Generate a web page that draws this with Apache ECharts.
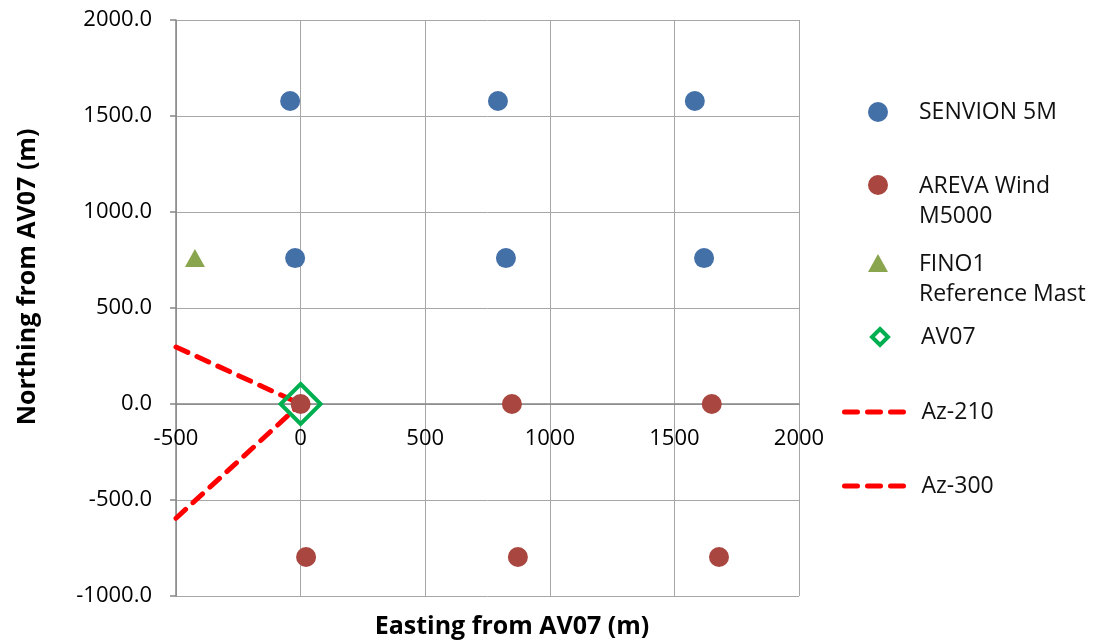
<!DOCTYPE html>
<html>
<head>
<meta charset="utf-8">
<script src="https://cdn.jsdelivr.net/npm/echarts@6/dist/echarts.min.js"></script>
<style>html,body{margin:0;padding:0;background:#fff}#c{width:1094px;height:640px}</style>
</head>
<body>
<div id="c"></div>
<script>
// Data
const senvion = [[-42, 1578], [792, 1578], [1582, 1578], [-22, 760], [824, 760], [1619, 760]];
const areva = [[0, 0], [848, 0], [1650, 0], [22, -797], [872, -797], [1679, -797]];
const fino1 = [[-424, 760]];
const av07 = [[0, 0]];
const az210 = [[-500, -595], [0, 0]];
const az300 = [[-500, 297], [0, 0]];
const xTicks = { min: -500, max: 2000, interval: 500 };
const yTicks = { min: -1000, max: 2000, interval: 500 };
const xTitle = 'Easting from AV07 (m)';
const yTitle = 'Northing from AV07 (m)';

const FONT = 'Open Sans';
const chart = echarts.init(document.getElementById('c'), null, { renderer: 'canvas' });

const GRID = { left: 176, top: 20, right: 295, bottom: 44 };
const plotH = 640 - GRID.top - GRID.bottom;
// pixel offset of the y=0 line from the bottom of the plot (x axis crosses at 0)
const zeroOffset = plotH * (0 - yTicks.min) / (yTicks.max - yTicks.min);

const lineStyle = { type: [13, 10], width: 5, color: '#FF0000', cap: 'round' };

function ts(pad) {
  return { fontFamily: FONT, fontSize: 23, color: '#111', lineHeight: 26, padding: pad };
}
function ts2(pad) {
  return {
    fontFamily: FONT, fontSize: 23, color: '#111', padding: pad,
    rich: {
      a: { fontFamily: FONT, fontSize: 23, color: '#111', lineHeight: 62, verticalAlign: 'bottom' },
      b: { fontFamily: FONT, fontSize: 23, color: '#111', lineHeight: 36 }
    }
  };
}
function leg(data, top, left, iw, ih, textStyle, extra) {
  return Object.assign({
    data: data,
    orient: 'vertical',
    left: left,
    top: top,
    itemWidth: iw,
    itemHeight: ih,
    selectedMode: false,
    textStyle: textStyle
  }, extra || {});
}

chart.setOption({
  animation: false,
  grid: Object.assign({ containLabel: false, outerBoundsMode: 'none' }, GRID),
  xAxis: {
    type: 'value',
    min: xTicks.min, max: xTicks.max, interval: xTicks.interval,
    offset: -zeroOffset,
    axisLine: { onZero: false, lineStyle: { color: '#868686', width: 1.5 } },
    axisTick: { show: false },
    axisLabel: { fontFamily: FONT, fontSize: 22, color: '#000', margin: 24, formatter: v => String(v) },
    splitLine: { show: true, lineStyle: { color: '#a6a6a6', width: 1 } }
  },
  yAxis: {
    type: 'value',
    min: yTicks.min, max: yTicks.max, interval: yTicks.interval,
    axisLine: { show: true, onZero: false, lineStyle: { color: '#868686', width: 1.5 } },
    axisTick: { show: true, length: 6, lineStyle: { color: '#868686', width: 1.5 } },
    axisLabel: { fontFamily: FONT, fontSize: 22, color: '#000', margin: 24, formatter: v => v.toFixed(1) },
    splitLine: { show: true, lineStyle: { color: '#a6a6a6', width: 1 } }
  },
  graphic: [
    { type: 'text', x: 512, y: 627, style: { text: xTitle, fontFamily: FONT, fontSize: 25, fontWeight: 'bold', fill: '#000', align: 'center', verticalAlign: 'middle' } },
    { type: 'text', x: 28, y: 277, rotation: Math.PI / 2, style: { text: yTitle, fontFamily: FONT, fontSize: 25, fontWeight: 'bold', fill: '#000', align: 'center', verticalAlign: 'middle' } }
  ],
  legend: [
    leg(['SENVION 5M'], 94, 863, 20, 20, ts([0, 0, 0, 26])),
    leg(['AREVA Wind M5000'], 170, 863, 20, 20, ts2([0, 0, 0, 26]), { formatter: () => '{a|AREVA Wind}\n{b|M5000}' }),
    leg(['FINO1 Reference Mast'], 248, 863, 20, 18, ts2([0, 0, 0, 26]), { formatter: () => '{a|FINO1}\n{b|Reference Mast}' }),
    leg([{ name: 'AV07', itemStyle: { borderWidth: 4 } }], 319, 865, 16, 16, ts([0, 0, 0, 28])),
    leg(['Az-210'], 394, 837, 62, 20, ts([0, 0, 0, 10]), { itemStyle: { opacity: 0 }, lineStyle: { type: [13, 10], width: 5, cap: 'round', color: '#FF0000', opacity: 1 } }),
    leg(['Az-300'], 468, 837, 62, 20, ts([0, 0, 0, 10]), { itemStyle: { opacity: 0 }, lineStyle: { type: [13, 10], width: 5, cap: 'round', color: '#FF0000', opacity: 1 } })
  ],
  series: [
    { name: 'Az-210', type: 'line', data: az210, showSymbol: false, symbol: 'none', lineStyle: lineStyle, itemStyle: { color: '#FF0000' }, z: 3 },
    { name: 'Az-300', type: 'line', data: az300, showSymbol: false, symbol: 'none', lineStyle: lineStyle, itemStyle: { color: '#FF0000' }, z: 3 },
    { name: 'SENVION 5M', type: 'scatter', data: senvion, symbol: 'circle', symbolSize: 20, itemStyle: { color: '#4470A8', opacity: 1 }, z: 4 },
    { name: 'AREVA Wind M5000', type: 'scatter', data: areva, symbol: 'circle', symbolSize: 20, itemStyle: { color: '#A9463F', opacity: 1 }, z: 4 },
    { name: 'FINO1 Reference Mast', type: 'scatter', data: fino1, symbol: 'triangle', symbolSize: [20, 18], itemStyle: { color: '#89A54E', opacity: 1 }, z: 4 },
    { name: 'AV07', type: 'scatter', data: av07, symbol: 'diamond', symbolSize: 40, itemStyle: { color: 'rgba(255,255,255,0)', borderColor: '#00B050', borderWidth: 4, opacity: 1 }, z: 5 }
  ]
});
</script>
</body>
</html>
